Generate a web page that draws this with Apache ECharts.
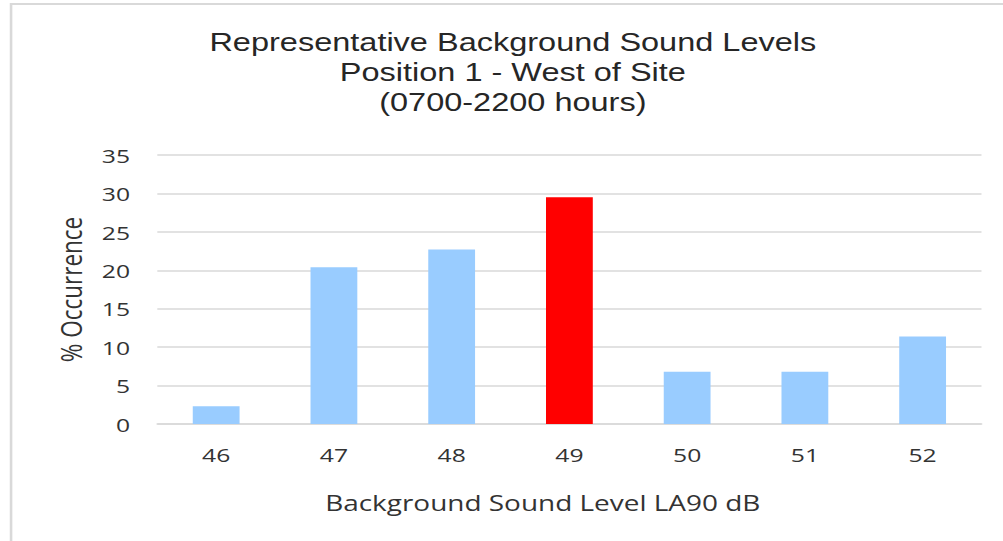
<!DOCTYPE html>
<html><head><meta charset="utf-8">
<script src="https://cdn.jsdelivr.net/npm/echarts@6/dist/echarts.min.js"></script>
<style>html,body{margin:0;padding:0;background:#fff;overflow:hidden}
#c{width:771.5px;height:541px;transform:scaleX(1.3);transform-origin:0 0}</style>
</head><body><div id="c"></div>
<script>
const categories = ['46','47','48','49','50','51','52'];
const values = [2.3, 20.4, 22.7, 29.5, 6.8, 6.8, 11.4];
const highlightIndex = 3;
const titleLines = ['Representative Background Sound Levels','Position 1 - West of Site','(0700-2200 hours)'];
const xName = 'Background Sound Level LA90 dB';
const yName = '% Occurrence';

const chart = echarts.init(document.getElementById('c'), null, {renderer:'svg'});
chart.setOption({
  animation:false,
  backgroundColor:'#fff',
  title:{text:titleLines.join('\n'), left:389.5, top:22, textAlign:'center',
    textStyle:{fontFamily:'Liberation Sans', fontSize:25, fontWeight:'normal', color:'#262626', lineHeight:30}},
  graphic:[{type:'rect', shape:{x:8.5,y:4,width:900,height:600}, style:{fill:'none', stroke:'#d9d9d9', lineWidth:2}, silent:true}],
  grid:{left:121, right:17, top:155, bottom:117},
  xAxis:{type:'category', data:categories,
    name:xName, nameLocation:'middle', nameGap:67,
    nameTextStyle:{fontFamily:'Open Sans', fontSize:21.5, color:'#333', padding:[0,41,0,0]},
    axisLine:{lineStyle:{color:'#d9d9d9', width:1.5}}, axisTick:{show:false},
    axisLabel:{fontFamily:'Open Sans', fontSize:19, color:'#333', margin:21}},
  yAxis:{type:'value', min:0, max:35, interval:5,
    name:yName, nameLocation:'middle', nameGap:55, nameRotate:90,
    nameTextStyle:{fontFamily:'Open Sans', fontSize:22.5, color:'#333'},
    axisLine:{show:false}, axisTick:{show:false},
    axisLabel:{fontFamily:'Open Sans', fontSize:19, color:'#333', margin:21},
    splitLine:{lineStyle:{color:'#d9d9d9', width:1.5}}},
  series:[{type:'bar', barWidth:36,
    data:values.map((v,i)=>({value:v, itemStyle:{color: i===highlightIndex ? '#ff0000' : '#99ccff'}}))}]
});
</script></body></html>
